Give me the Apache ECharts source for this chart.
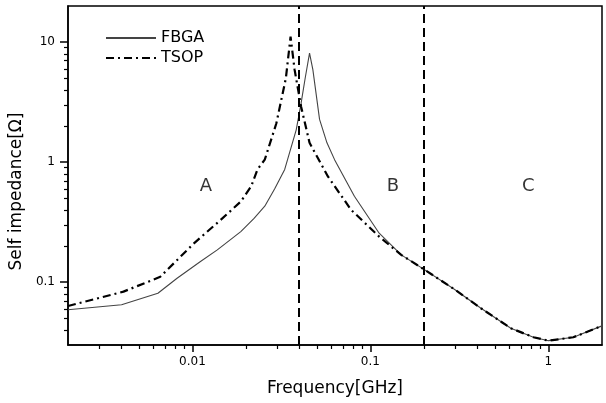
<!DOCTYPE html>
<html>
<head>
<meta charset="utf-8">
<script src="https://cdn.jsdelivr.net/npm/echarts@6/dist/echarts.min.js"></script>
<style>html,body{margin:0;padding:0;background:#fff}#c{width:606px;height:403px}</style>
</head>
<body>
<div id="c"></div>
<script>
// Frequency in GHz, self impedance in ohm
var fbgaFreq = [0.002, 0.004, 0.0064, 0.0082, 0.0111, 0.0138, 0.0187, 0.0222, 0.0255, 0.029, 0.033, 0.0383, 0.0408, 0.043, 0.0455, 0.0475, 0.0518, 0.057, 0.0629, 0.0813, 0.112, 0.149, 0.2, 0.296, 0.418, 0.615, 0.824, 1.0, 1.38, 2.0];
var fbgaZ    = [0.059, 0.065, 0.081, 0.108, 0.149, 0.186, 0.264, 0.34, 0.43, 0.60, 0.87, 1.86, 3.1, 5.0, 8.1, 5.9, 2.27, 1.45, 1.05, 0.52, 0.256, 0.169, 0.128, 0.0874, 0.0607, 0.0414, 0.0348, 0.0326, 0.0348, 0.0433];
var tsopFreq = [0.002, 0.0041, 0.0066, 0.0102, 0.0144, 0.0187, 0.0214, 0.0232, 0.0255, 0.0296, 0.0335, 0.0356, 0.0375, 0.0408, 0.0455, 0.0577, 0.078, 0.112, 0.149, 0.2, 0.296, 0.418, 0.615, 0.824, 1.0, 1.38, 2.0];
var tsopZ    = [0.0634, 0.0835, 0.111, 0.211, 0.33, 0.47, 0.63, 0.87, 1.05, 2.1, 5.0, 11.1, 5.9, 2.9, 1.45, 0.76, 0.40, 0.24, 0.169, 0.128, 0.0874, 0.0607, 0.0414, 0.0348, 0.0326, 0.0348, 0.0433];
var regionBounds = [0.04, 0.2];
var regionNames = ['A', 'B', 'C'];
var regionFreq = [0.0119, 0.134, 0.77];
var regionZ = [0.63, 0.63, 0.63];
var xMajorTicks = [0.01, 0.1, 1];
var xMinorTicks = [0.003, 0.004, 0.005, 0.006, 0.007, 0.008, 0.009, 0.02, 0.03, 0.04, 0.05, 0.06, 0.07, 0.08, 0.09, 0.2, 0.3, 0.4, 0.5, 0.6, 0.7, 0.8, 0.9];
var yMajorTicks = [0.1, 1, 10];
var yMinorTicks = [0.04, 0.05, 0.06, 0.07, 0.08, 0.09, 0.2, 0.3, 0.4, 0.5, 0.6, 0.7, 0.8, 0.9, 2, 3, 4, 5, 6, 7, 8, 9];
var xTickLabels = ['0.01', '0.1', '1'];
var yTickLabels = ['0.1', '1', '10'];
var xRange = [0.002, 2];
var yRange = [0.03, 20];

// Both axes are logarithmic: the library's value axes are fed log10 of the values.
var L = function (v) { return Math.log10(v); };
function zip(a, b) { return a.map(function (v, i) { return [L(v), L(b[i])]; }); }
function labelFor(ticks, labels) {
  return function (v) {
    for (var i = 0; i < ticks.length; i++) { if (Math.abs(v - L(ticks[i])) < 1e-6) return labels[i]; }
    return '';
  };
}
var FONT = 'DejaVu Sans';
function baseX(extra) {
  return Object.assign({type: 'value', min: L(xRange[0]), max: L(xRange[1]), position: 'bottom', splitLine: {show: false}, minorTick: {show: false}}, extra);
}
function baseY(extra) {
  return Object.assign({type: 'value', min: L(yRange[0]), max: L(yRange[1]), position: 'left', splitLine: {show: false}, minorTick: {show: false}}, extra);
}
var chart = echarts.init(document.getElementById('c'), null, {renderer: 'canvas'});
chart.setOption({
  animation: false,
  backgroundColor: '#fff',
  grid: {left: 67, right: 4, top: 6, bottom: 58, show: true, borderColor: '#000', borderWidth: 1.5, backgroundColor: 'transparent'},
  legend: {
    data: ['FBGA', 'TSOP'], orient: 'vertical', left: 100, top: 25, itemWidth: 50, itemHeight: 14, itemGap: 4,
    itemStyle: {opacity: 0},
    textStyle: {fontFamily: FONT, fontSize: 16, color: '#000'}
  },
  xAxis: [baseX({
    name: 'Frequency[GHz]', nameLocation: 'middle', nameGap: 35,
    nameTextStyle: {fontFamily: FONT, fontSize: 17, color: '#000'},
    axisLine: {show: true, onZero: false, lineStyle: {color: '#000', width: 1.5}},
    axisTick: {show: true, inside: false, customValues: xMajorTicks.map(L), length: 7, lineStyle: {color: '#000', width: 1.5}},
    axisLabel: {customValues: xMajorTicks.map(L), formatter: labelFor(xMajorTicks, xTickLabels), fontFamily: FONT, fontSize: 12, color: '#000', margin: 11}
  }), baseX({
    axisLine: {show: false, onZero: false},
    axisTick: {show: true, inside: false, customValues: xMinorTicks.map(L), length: 4, lineStyle: {color: '#000', width: 1.2}},
    axisLabel: {show: false}
  })],
  yAxis: [baseY({
    name: 'Self impedance[Ω]', nameLocation: 'middle', nameGap: 40, nameRotate: 90,
    nameTextStyle: {fontFamily: FONT, fontSize: 17, color: '#000', padding: [0, 32, 0, 0]},
    axisLine: {show: true, onZero: false, lineStyle: {color: '#000', width: 1.5}},
    axisTick: {show: true, inside: false, customValues: yMajorTicks.map(L), length: 8, lineStyle: {color: '#000', width: 1.5}},
    axisLabel: {customValues: yMajorTicks.map(L), formatter: labelFor(yMajorTicks, yTickLabels), fontFamily: FONT, fontSize: 12, color: '#000', margin: 13}
  }), baseY({
    axisLine: {show: false, onZero: false},
    axisTick: {show: true, inside: false, customValues: yMinorTicks.map(L), length: 4, lineStyle: {color: '#000', width: 1.2}},
    axisLabel: {show: false}
  })],
  series: [{
    name: 'FBGA', type: 'line', xAxisIndex: 0, yAxisIndex: 0, symbol: 'none', smooth: false,
    data: zip(fbgaFreq, fbgaZ),
    lineStyle: {color: '#444', width: 1.1, type: 'solid'}, itemStyle: {color: '#444'}
  }, {
    name: 'TSOP', type: 'line', xAxisIndex: 0, yAxisIndex: 0, symbol: 'none', smooth: false,
    data: zip(tsopFreq, tsopZ),
    lineStyle: {color: '#000', width: 2.2, type: [8, 4, 2, 4]}, itemStyle: {color: '#000'}
  }, {
    name: 'regions', type: 'scatter', xAxisIndex: 0, yAxisIndex: 0, symbolSize: 0, silent: true,
    data: regionFreq.map(function (f, i) { return {value: [L(f), L(regionZ[i])], name: regionNames[i]}; }),
    label: {show: true, position: 'inside', formatter: '{b}', fontFamily: FONT, fontSize: 18, color: '#000'},
    markLine: {
      silent: true, symbol: ['none', 'none'], label: {show: false},
      lineStyle: {color: '#000', width: 2, type: [9, 5]},
      data: regionBounds.map(function (b) { return {xAxis: L(b)}; })
    }
  }]
});
</script>
</body>
</html>
